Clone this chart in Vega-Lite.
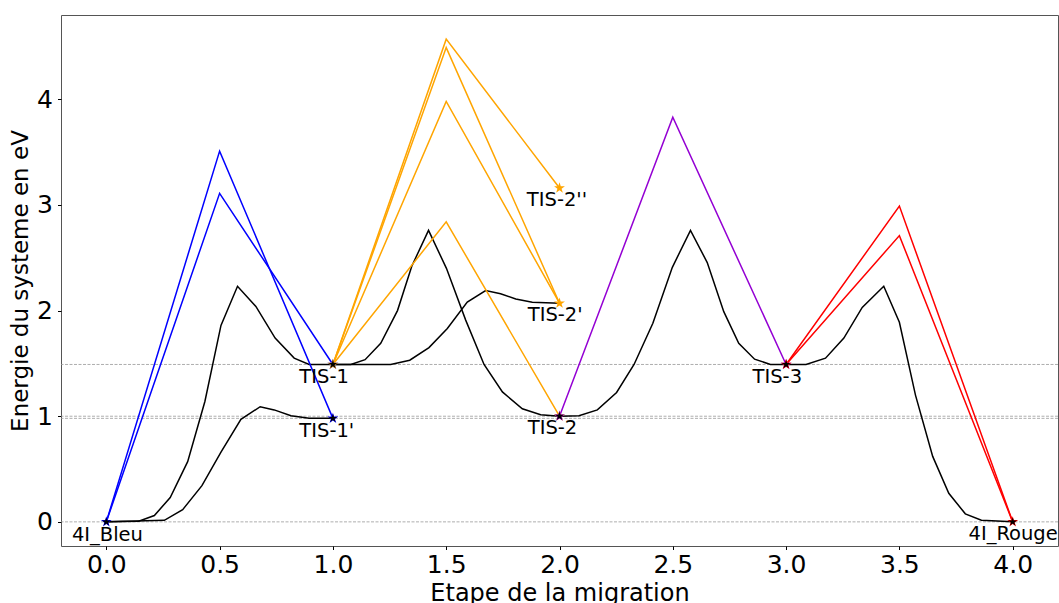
{
  "$schema": "https://vega.github.io/schema/vega-lite/v6.json",
  "autosize": "none",
  "width": 997,
  "height": 531,
  "padding": {"left": 61, "top": 15, "right": 1, "bottom": 57},
  "background": "white",
  "config": {
    "font": "DejaVu Sans",
    "view": {"stroke": "#555", "strokeWidth": 1},
    "axis": {"grid": false, "domain": false, "labelColor": "black", "titleColor": "black", "tickColor": "black", "labelFont": "DejaVu Sans", "titleFont": "DejaVu Sans", "titleFontWeight": "normal"}
  },
  "datasets": {
    "neb": [
      {"curve": "c1", "x": 0.0, "y": 0.0}, {"curve": "c1", "x": 0.143, "y": 0.006}, {"curve": "c1", "x": 0.212, "y": 0.06}, {"curve": "c1", "x": 0.282, "y": 0.23}, {"curve": "c1", "x": 0.359, "y": 0.57}, {"curve": "c1", "x": 0.435, "y": 1.14}, {"curve": "c1", "x": 0.506, "y": 1.86}, {"curve": "c1", "x": 0.579, "y": 2.23}, {"curve": "c1", "x": 0.66, "y": 2.04}, {"curve": "c1", "x": 0.745, "y": 1.74}, {"curve": "c1", "x": 0.829, "y": 1.55}, {"curve": "c1", "x": 0.895, "y": 1.49}, {"curve": "c1", "x": 1.0, "y": 1.49},
      {"curve": "c2", "x": 0.0, "y": 0.0}, {"curve": "c2", "x": 0.256, "y": 0.015}, {"curve": "c2", "x": 0.337, "y": 0.116}, {"curve": "c2", "x": 0.422, "y": 0.343}, {"curve": "c2", "x": 0.506, "y": 0.66}, {"curve": "c2", "x": 0.594, "y": 0.97}, {"curve": "c2", "x": 0.679, "y": 1.09}, {"curve": "c2", "x": 0.741, "y": 1.06}, {"curve": "c2", "x": 0.815, "y": 1.005}, {"curve": "c2", "x": 0.895, "y": 0.98}, {"curve": "c2", "x": 1.0, "y": 0.98},
      {"curve": "c3", "x": 1.0, "y": 1.49}, {"curve": "c3", "x": 1.079, "y": 1.49}, {"curve": "c3", "x": 1.142, "y": 1.535}, {"curve": "c3", "x": 1.211, "y": 1.69}, {"curve": "c3", "x": 1.285, "y": 2.0}, {"curve": "c3", "x": 1.348, "y": 2.42}, {"curve": "c3", "x": 1.422, "y": 2.76}, {"curve": "c3", "x": 1.501, "y": 2.4}, {"curve": "c3", "x": 1.586, "y": 1.91}, {"curve": "c3", "x": 1.667, "y": 1.49}, {"curve": "c3", "x": 1.748, "y": 1.23}, {"curve": "c3", "x": 1.836, "y": 1.07}, {"curve": "c3", "x": 1.917, "y": 1.015}, {"curve": "c3", "x": 2.0, "y": 1.0},
      {"curve": "c4", "x": 1.0, "y": 1.49}, {"curve": "c4", "x": 1.255, "y": 1.49}, {"curve": "c4", "x": 1.339, "y": 1.53}, {"curve": "c4", "x": 1.424, "y": 1.65}, {"curve": "c4", "x": 1.505, "y": 1.83}, {"curve": "c4", "x": 1.593, "y": 2.08}, {"curve": "c4", "x": 1.674, "y": 2.19}, {"curve": "c4", "x": 1.74, "y": 2.16}, {"curve": "c4", "x": 1.807, "y": 2.11}, {"curve": "c4", "x": 1.88, "y": 2.08}, {"curve": "c4", "x": 2.0, "y": 2.07},
      {"curve": "c5", "x": 2.0, "y": 1.0}, {"curve": "c5", "x": 2.086, "y": 1.005}, {"curve": "c5", "x": 2.167, "y": 1.06}, {"curve": "c5", "x": 2.252, "y": 1.225}, {"curve": "c5", "x": 2.329, "y": 1.49}, {"curve": "c5", "x": 2.412, "y": 1.88}, {"curve": "c5", "x": 2.498, "y": 2.41}, {"curve": "c5", "x": 2.578, "y": 2.76}, {"curve": "c5", "x": 2.652, "y": 2.455}, {"curve": "c5", "x": 2.725, "y": 1.99}, {"curve": "c5", "x": 2.791, "y": 1.69}, {"curve": "c5", "x": 2.861, "y": 1.54}, {"curve": "c5", "x": 2.931, "y": 1.49}, {"curve": "c5", "x": 3.0, "y": 1.49},
      {"curve": "c6", "x": 3.0, "y": 1.49}, {"curve": "c6", "x": 3.088, "y": 1.49}, {"curve": "c6", "x": 3.174, "y": 1.55}, {"curve": "c6", "x": 3.255, "y": 1.74}, {"curve": "c6", "x": 3.336, "y": 2.03}, {"curve": "c6", "x": 3.431, "y": 2.23}, {"curve": "c6", "x": 3.5, "y": 1.89}, {"curve": "c6", "x": 3.571, "y": 1.2}, {"curve": "c6", "x": 3.647, "y": 0.62}, {"curve": "c6", "x": 3.718, "y": 0.27}, {"curve": "c6", "x": 3.791, "y": 0.076}, {"curve": "c6", "x": 3.862, "y": 0.015}, {"curve": "c6", "x": 4.0, "y": 0.0}
    ],
    "paths": [
      {"path": "B1", "group": "bleu", "x": 0, "y": 0}, {"path": "B1", "group": "bleu", "x": 0.5, "y": 3.51}, {"path": "B1", "group": "bleu", "x": 1, "y": 0.98},
      {"path": "B2", "group": "bleu", "x": 0, "y": 0}, {"path": "B2", "group": "bleu", "x": 0.5, "y": 3.11}, {"path": "B2", "group": "bleu", "x": 1, "y": 1.49},
      {"path": "O1", "group": "orange", "x": 1, "y": 1.49}, {"path": "O1", "group": "orange", "x": 1.5, "y": 4.57}, {"path": "O1", "group": "orange", "x": 2, "y": 3.16},
      {"path": "O2", "group": "orange", "x": 1, "y": 1.49}, {"path": "O2", "group": "orange", "x": 1.5, "y": 4.49}, {"path": "O2", "group": "orange", "x": 2, "y": 2.07},
      {"path": "O3", "group": "orange", "x": 1, "y": 1.49}, {"path": "O3", "group": "orange", "x": 1.5, "y": 3.98}, {"path": "O3", "group": "orange", "x": 2, "y": 2.07},
      {"path": "O4", "group": "orange", "x": 1, "y": 1.49}, {"path": "O4", "group": "orange", "x": 1.5, "y": 2.84}, {"path": "O4", "group": "orange", "x": 2, "y": 1.0},
      {"path": "P1", "group": "violet", "x": 2, "y": 1.0}, {"path": "P1", "group": "violet", "x": 2.5, "y": 3.83}, {"path": "P1", "group": "violet", "x": 3, "y": 1.49},
      {"path": "R1", "group": "rouge", "x": 3, "y": 1.49}, {"path": "R1", "group": "rouge", "x": 3.5, "y": 2.99}, {"path": "R1", "group": "rouge", "x": 4, "y": 0},
      {"path": "R2", "group": "rouge", "x": 3, "y": 1.49}, {"path": "R2", "group": "rouge", "x": 3.5, "y": 2.71}, {"path": "R2", "group": "rouge", "x": 4, "y": 0}
    ],
    "hlines": [{"y": 0}, {"y": 0.98}, {"y": 1.0}, {"y": 1.49}],
    "cstars": [
      {"group": "bleu", "x": 0, "y": 0}, {"group": "bleu", "x": 1, "y": 0.98}, {"group": "bleu", "x": 1, "y": 1.49},
      {"group": "orange", "x": 1, "y": 1.49}, {"group": "orange", "x": 2, "y": 3.16}, {"group": "orange", "x": 2, "y": 2.07}, {"group": "orange", "x": 2, "y": 1.0},
      {"group": "violet", "x": 2, "y": 1.0}, {"group": "violet", "x": 3, "y": 1.49},
      {"group": "rouge", "x": 3, "y": 1.49}, {"group": "rouge", "x": 4, "y": 0}
    ],
    "bstars": [
      {"x": 0, "y": 0}, {"x": 1, "y": 1.49}, {"x": 1, "y": 0.98}, {"x": 2, "y": 1.0}, {"x": 3, "y": 1.49}, {"x": 4, "y": 0}
    ],
    "labels": [
      {"label": "4I_Bleu", "lx": -0.152, "ly": -0.125},
      {"label": "TIS-1", "lx": 0.852, "ly": 1.37},
      {"label": "TIS-1'", "lx": 0.852, "ly": 0.86},
      {"label": "TIS-2", "lx": 1.86, "ly": 0.89},
      {"label": "TIS-2'", "lx": 1.86, "ly": 1.96},
      {"label": "TIS-2''", "lx": 1.856, "ly": 3.05},
      {"label": "TIS-3", "lx": 2.852, "ly": 1.375},
      {"label": "4I_Rouge", "lx": 3.805, "ly": -0.115}
    ]
  },
  "layer": [
    {
      "data": {"name": "hlines"},
      "mark": {"type": "rule", "color": "#999999", "strokeWidth": 0.8, "strokeDash": [3, 1.5]},
      "encoding": {
        "y": {"field": "y", "type": "quantitative", "scale": {"domain": [-0.2285, 4.7985], "nice": false, "zero": false},
          "axis": {"values": [0, 1, 2, 3, 4], "format": "d", "labelFontSize": 25, "tickSize": 3.5, "labelPadding": 5, "title": "Energie du systeme en eV", "titleFontSize": 23, "titlePadding": 4}}
      }
    },
    {
      "data": {"name": "neb"},
      "mark": {"type": "line", "color": "black", "strokeWidth": 1.5},
      "encoding": {
        "x": {"field": "x", "type": "quantitative", "scale": {"domain": [-0.2, 4.2], "nice": false, "zero": false},
          "axis": {"values": [0, 0.5, 1, 1.5, 2, 2.5, 3, 3.5, 4], "format": ".1f", "labelFontSize": 25, "tickSize": 3.5, "labelPadding": 3, "title": "Etape de la migration", "titleFontSize": 24, "titlePadding": 4}},
        "y": {"field": "y", "type": "quantitative"},
        "detail": {"field": "curve"}
      }
    },
    {
      "data": {"name": "paths"},
      "mark": {"type": "line", "strokeWidth": 1.5},
      "encoding": {
        "x": {"field": "x", "type": "quantitative"},
        "y": {"field": "y", "type": "quantitative"},
        "detail": {"field": "path"},
        "color": {"field": "group", "type": "nominal", "scale": {"domain": ["bleu", "orange", "violet", "rouge"], "range": ["#0000ff", "#ffa500", "#9400d3", "#ff0000"]}, "legend": null}
      }
    },
    {
      "data": {"name": "cstars"},
      "mark": {"type": "point", "filled": true, "opacity": 1, "size": 130, "shape": "M0,-1L0.2245,-0.309L0.951,-0.309L0.363,0.118L0.588,0.809L0,0.382L-0.588,0.809L-0.363,0.118L-0.951,-0.309L-0.2245,-0.309Z"},
      "encoding": {
        "x": {"field": "x", "type": "quantitative"},
        "y": {"field": "y", "type": "quantitative"},
        "color": {"field": "group", "type": "nominal", "legend": null}
      }
    },
    {
      "data": {"name": "bstars"},
      "mark": {"type": "point", "filled": true, "opacity": 1, "size": 80, "color": "black", "shape": "M0,-1L0.2245,-0.309L0.951,-0.309L0.363,0.118L0.588,0.809L0,0.382L-0.588,0.809L-0.363,0.118L-0.951,-0.309L-0.2245,-0.309Z"},
      "encoding": {
        "x": {"field": "x", "type": "quantitative"},
        "y": {"field": "y", "type": "quantitative"}
      }
    },
    {
      "data": {"name": "labels"},
      "mark": {"type": "text", "align": "left", "baseline": "middle", "fontSize": 19.5, "color": "black", "font": "DejaVu Sans"},
      "encoding": {
        "x": {"field": "lx", "type": "quantitative"},
        "y": {"field": "ly", "type": "quantitative"},
        "text": {"field": "label"}
      }
    }
  ]
}
